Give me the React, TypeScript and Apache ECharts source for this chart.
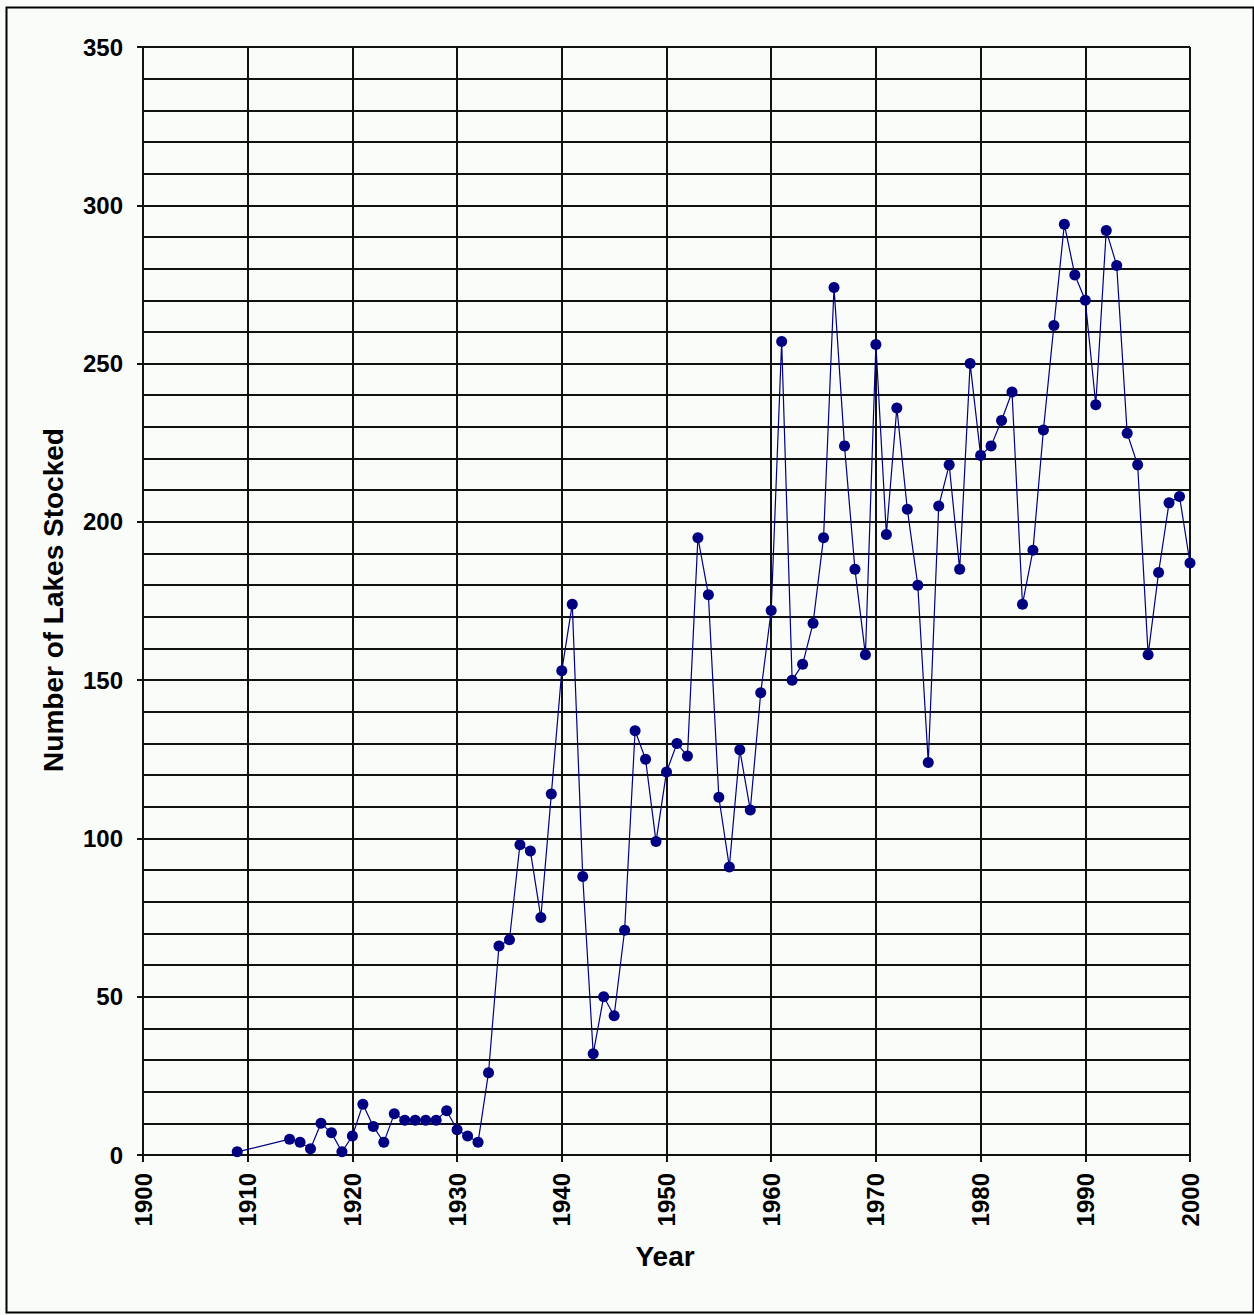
import React, { useEffect, useRef } from "react";
import * as echarts from "echarts";

const years: number[] = [
  1909, 1914, 1915, 1916, 1917, 1918, 1919, 1920, 1921, 1922, 1923, 1924, 1925, 1926, 1927, 1928, 1929,
  1930, 1931, 1932, 1933, 1934, 1935, 1936, 1937, 1938, 1939, 1940, 1941, 1942, 1943, 1944, 1945, 1946,
  1947, 1948, 1949, 1950, 1951, 1952, 1953, 1954, 1955, 1956, 1957, 1958, 1959, 1960, 1961, 1962, 1963,
  1964, 1965, 1966, 1967, 1968, 1969, 1970, 1971, 1972, 1973, 1974, 1975, 1976, 1977, 1978, 1979, 1980,
  1981, 1982, 1983, 1984, 1985, 1986, 1987, 1988, 1989, 1990, 1991, 1992, 1993, 1994, 1995, 1996, 1997,
  1998, 1999, 2000,
];

const lakesStocked: number[] = [
  1, 5, 4, 2, 10, 7, 1, 6, 16, 9, 4, 13, 11, 11, 11, 11, 14,
  8, 6, 4, 26, 66, 68, 98, 96, 75, 114, 153, 174, 88, 32, 50, 44, 71,
  134, 125, 99, 121, 130, 126, 195, 177, 113, 91, 128, 109, 146, 172, 257, 150, 155,
  168, 195, 274, 224, 185, 158, 256, 196, 236, 204, 180, 124, 205, 218, 185, 250, 221,
  224, 232, 241, 174, 191, 229, 262, 294, 278, 270, 237, 292, 281, 228, 218, 158, 184,
  206, 208, 187,
];

const yTitle = "Number of Lakes Stocked";
const xTitle = "Year";

export default function App() {
  const ref = useRef<HTMLDivElement>(null);

  useEffect(() => {
    document.body.style.margin = "0";
    if (!ref.current) return;
    const chart = echarts.init(ref.current, null, { renderer: "svg" });
    const font = "'Liberation Sans', Arial, sans-serif";
    const gridLine = { color: "#111", width: 2 };
    chart.setOption({
      animation: false,
      backgroundColor: "#fafcfa",
      grid: { left: 143, top: 47, width: 1047, height: 1108, containLabel: false },
      xAxis: {
        type: "value",
        min: 1900,
        max: 2000,
        interval: 10,
        axisLine: { show: true, lineStyle: gridLine },
        axisTick: { show: true, length: 7, lineStyle: gridLine },
        splitLine: { show: true, lineStyle: gridLine },
        axisLabel: {
          rotate: 90,
          fontSize: 24,
          fontWeight: "bold",
          fontFamily: font,
          color: "#000",
          margin: 18,
          formatter: (v: number) => String(v),
        },
      },
      yAxis: [
        {
          type: "value",
          min: 0,
          max: 350,
          interval: 10,
          axisLine: { show: true, lineStyle: gridLine },
          axisTick: { show: false },
          axisLabel: { show: false },
          splitLine: { show: true, lineStyle: gridLine },
        },
        {
          type: "value",
          position: "left",
          min: 0,
          max: 350,
          interval: 50,
          axisLine: { show: false },
          axisTick: { show: true, length: 6, lineStyle: gridLine },
          splitLine: { show: false },
          axisLabel: {
            fontSize: 24,
            fontWeight: "bold",
            fontFamily: font,
            color: "#000",
            margin: 20,
            formatter: (v: number) => String(v),
          },
        },
      ],
      series: [
        {
          type: "line",
          yAxisIndex: 0,
          data: years.map((y, i) => [y, lakesStocked[i]]),
          symbol: "circle",
          symbolSize: 11,
          lineStyle: { color: "#000080", width: 1.2 },
          itemStyle: { color: "#000080" },
        },
      ],
      graphic: [
        {
          type: "rect",
          left: 4,
          top: 5,
          shape: { width: 1247, height: 1305 },
          style: { fill: "none", stroke: "#000", lineWidth: 2 },
          silent: true,
        },
        {
          type: "text",
          x: 53,
          y: 600,
          rotation: Math.PI / 2,
          style: {
            text: yTitle,
            fontSize: 28,
            fontWeight: "bold",
            fontFamily: font,
            fill: "#000",
            align: "center",
            verticalAlign: "middle",
          },
        },
        {
          type: "text",
          x: 665,
          y: 1256,
          style: {
            text: xTitle,
            fontSize: 28,
            fontWeight: "bold",
            fontFamily: font,
            fill: "#000",
            align: "center",
            verticalAlign: "middle",
          },
        },
      ],
    });
    return () => chart.dispose();
  }, []);

  return <div ref={ref} style={{ width: 1254, height: 1315 }} />;
}
